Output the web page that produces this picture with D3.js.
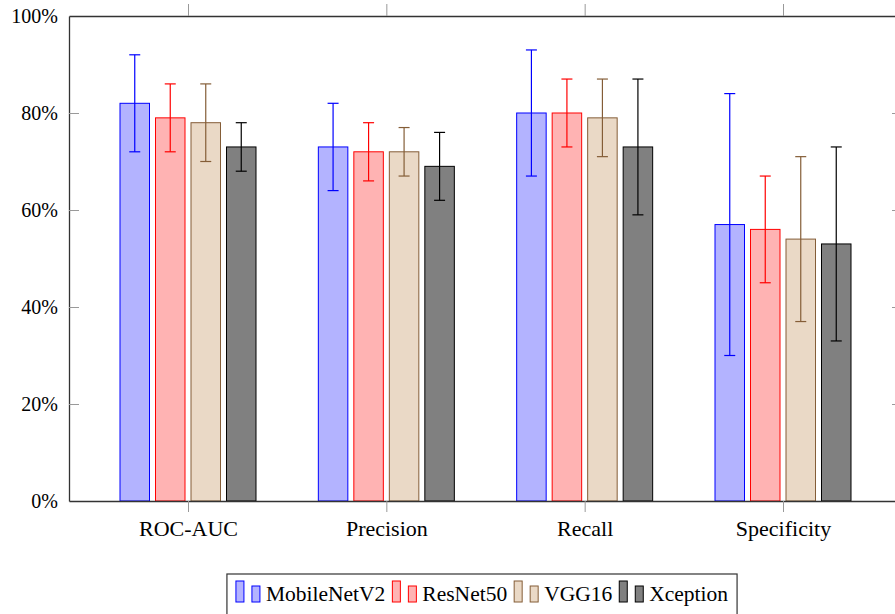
<!DOCTYPE html>
<html>
<head>
<meta charset="utf-8">
<script src="https://cdn.jsdelivr.net/npm/d3@7"></script>
<style>
  html, body { margin: 0; padding: 0; background: #fff; }
  svg { display: block; }
</style>
</head>
<body>
<svg id="chart" width="895" height="614"></svg>
<script>
// Metrics on the x axis
const categories = ["ROC-AUC", "Precision", "Recall", "Specificity"];
// Models, one bar per category each
const models = ["MobileNetV2", "ResNet50", "VGG16", "Xception"];

// Mean scores (fractions) per model, in category order
const mobileNetV2 = [0.82, 0.73, 0.80, 0.57];
const resNet50    = [0.79, 0.72, 0.80, 0.56];
const vgg16       = [0.78, 0.72, 0.79, 0.54];
const xception    = [0.73, 0.69, 0.73, 0.53];

// Error bar bounds (low / high) per model
const mobileNetV2Low  = [0.72, 0.64, 0.67, 0.30];
const mobileNetV2High = [0.92, 0.82, 0.93, 0.84];
const resNet50Low     = [0.72, 0.66, 0.73, 0.45];
const resNet50High    = [0.86, 0.78, 0.87, 0.67];
const vgg16Low        = [0.70, 0.67, 0.71, 0.37];
const vgg16High       = [0.86, 0.77, 0.87, 0.71];
const xceptionLow     = [0.68, 0.62, 0.59, 0.33];
const xceptionHigh    = [0.78, 0.76, 0.87, 0.73];

// Y axis ticks
const yTicks = [0, 0.2, 0.4, 0.6, 0.8, 1.0];

const seriesValues = [mobileNetV2, resNet50, vgg16, xception];
const seriesLow = [mobileNetV2Low, resNet50Low, vgg16Low, xceptionLow];
const seriesHigh = [mobileNetV2High, resNet50High, vgg16High, xceptionHigh];

const fills   = ["#b3b3ff", "#ffb3b3", "#ead9c6", "#808080"];
const strokes = ["#0000ff", "#ff0000", "#845d37", "#000000"];

const FONT = '"Liberation Serif", serif';
const svg = d3.select("#chart");

const plot = { left: 69, right: 902, top: 16, bottom: 501 };

const x = d3.scaleLinear().domain([-0.6, categories.length - 1 + 0.6]).range([plot.left, plot.right]);
const y = d3.scaleLinear().domain([0, 1]).range([plot.bottom, plot.top]);
const offset = d3.scalePoint().domain(models).range([-53.25, 53.25]);
const barW = 29.5;
const capHalf = 5.5;

const fmt = d3.format(".0%");
const catIdx = d3.range(categories.length);

// Bars
models.forEach((m, si) => {
  const g = svg.append("g");
  g.selectAll("rect").data(catIdx).join("rect")
    .attr("x", i => x(i) + offset(m) - barW / 2)
    .attr("y", i => y(seriesValues[si][i]))
    .attr("width", barW)
    .attr("height", i => y(0) - y(seriesValues[si][i]))
    .attr("fill", fills[si])
    .attr("stroke", strokes[si])
    .attr("stroke-width", 1);
});

// Error bars
models.forEach((m, si) => {
  const g = svg.append("g").attr("stroke", strokes[si]).attr("stroke-width", 1.2).attr("fill", "none");
  catIdx.forEach(i => {
    const cx = x(i) + offset(m);
    const lo = y(seriesLow[si][i]), hi = y(seriesHigh[si][i]);
    g.append("line").attr("x1", cx).attr("x2", cx).attr("y1", lo).attr("y2", hi);
    g.append("line").attr("x1", cx - capHalf).attr("x2", cx + capHalf).attr("y1", lo).attr("y2", lo);
    g.append("line").attr("x1", cx - capHalf).attr("x2", cx + capHalf).attr("y1", hi).attr("y2", hi);
  });
});

function styleAxis(g, size) {
  g.select(".domain").attr("stroke", "#333").attr("stroke-width", 1.3);
  g.selectAll(".tick line").attr("stroke", "#999").attr("stroke-width", 1);
  g.selectAll(".tick text")
    .style("font-family", FONT)
    .style("font-size", size + "px")
    .attr("fill", "#000");
}

// Left axis with percentage labels, ticks pointing inward
svg.append("g").attr("transform", `translate(${plot.left},0)`)
  .call(d3.axisLeft(y).tickValues(yTicks).tickFormat(fmt).tickSize(-10).tickSizeOuter(0).tickPadding(11))
  .call(styleAxis, 20);

// Right axis, ticks only
svg.append("g").attr("transform", `translate(${plot.right},0)`)
  .call(d3.axisRight(y).tickValues(yTicks).tickFormat("").tickSize(-10).tickSizeOuter(0))
  .call(styleAxis, 20);

// Bottom axis with category labels, ticks pointing outward
svg.append("g").attr("transform", `translate(0,${plot.bottom})`)
  .call(d3.axisBottom(x).tickValues(catIdx).tickFormat(i => categories[i]).tickSize(11).tickSizeOuter(0).tickPadding(8))
  .call(styleAxis, 22);

// Top axis, ticks only
svg.append("g").attr("transform", `translate(0,${plot.top})`)
  .call(d3.axisTop(x).tickValues(catIdx).tickFormat("").tickSize(12).tickSizeOuter(0))
  .call(styleAxis, 20);

// Legend
const legend = svg.append("g");
const legendTop = 574, legendBaseline = 601;
let cursor = 233.5;
models.forEach((m, si) => {
  const g = legend.append("g");
  g.append("rect").attr("x", cursor).attr("y", 581).attr("width", 8).attr("height", 21)
    .attr("fill", fills[si]).attr("stroke", strokes[si]).attr("stroke-width", 1);
  g.append("rect").attr("x", cursor + 16).attr("y", 586).attr("width", 8).attr("height", 16)
    .attr("fill", fills[si]).attr("stroke", strokes[si]).attr("stroke-width", 1);
  const t = g.append("text").attr("x", cursor + 30).attr("y", legendBaseline)
    .style("font-family", FONT).style("font-size", "21.5px").text(m);
  cursor = cursor + 30 + t.node().getComputedTextLength() + 7;
});
const legendLeft = 224.5;
const legendRight = cursor + 2;
legend.insert("rect", ":first-child")
  .attr("x", legendLeft).attr("y", legendTop)
  .attr("width", legendRight - legendLeft).attr("height", 45)
  .attr("fill", "#fff").attr("stroke", "#333").attr("stroke-width", 1.2);
// Centre the legend under the plot
const legendCenter = 482;
const shift = legendCenter - (legendLeft + legendRight) / 2;
legend.attr("transform", `translate(${shift},0)`);
</script>
</body>
</html>
